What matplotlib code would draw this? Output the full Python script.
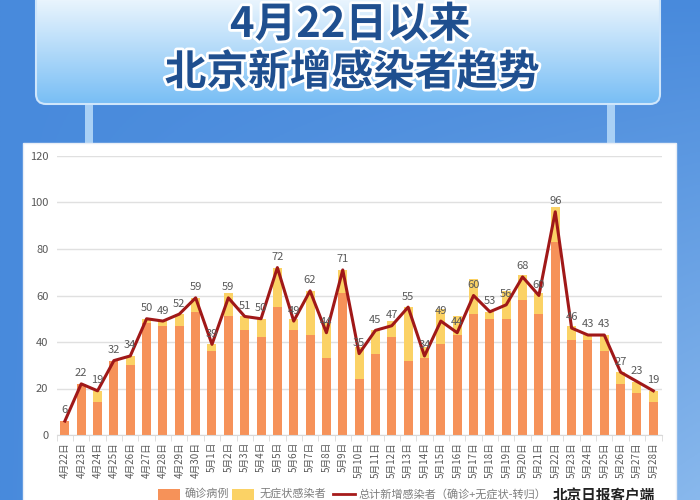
import numpy as np
import matplotlib
matplotlib.use("Agg")
from matplotlib import pyplot as plt
from matplotlib.patches import FancyBboxPatch, Rectangle
import matplotlib.patheffects as pe

plt.rcParams['font.family'] = ['Noto Sans CJK SC', 'DejaVu Sans']

# data
days = ['4月22日', '4月23日', '4月24日', '4月25日', '4月26日', '4月27日', '4月28日',
        '4月29日', '4月30日', '5月1日', '5月2日', '5月3日', '5月4日', '5月5日',
        '5月6日', '5月7日', '5月8日', '5月9日', '5月10日', '5月11日', '5月12日',
        '5月13日', '5月14日', '5月15日', '5月16日', '5月17日', '5月18日', '5月19日',
        '5月20日', '5月21日', '5月22日', '5月23日', '5月24日', '5月25日', '5月26日',
        '5月27日', '5月28日']
confirmed = [6, 22, 14, 32, 30, 48, 47, 47, 53, 36, 51, 45, 42, 55, 45, 43, 33, 61,
             24, 35, 42, 32, 33, 39, 43, 52, 50, 50, 58, 52, 83, 41, 41, 36, 22, 18, 14]
asymptomatic = [0, 0, 5, 0, 4, 2, 2, 5, 6, 3, 10, 6, 8, 17, 5, 19, 15, 10,
                14, 10, 7, 23, 5, 15, 8, 15, 3, 12, 11, 9, 15, 6, 2, 7, 5, 5, 5]
total = [6, 22, 19, 32, 34, 50, 49, 52, 59, 39, 59, 51, 50, 72, 49, 62, 44, 71,
         35, 45, 47, 55, 34, 49, 44, 60, 53, 56, 68, 60, 96, 46, 43, 43, 27, 23, 19]

fig = plt.figure(figsize=(7, 5), dpi=100)

# background in pixel coordinates
bg = fig.add_axes([0, 0, 1, 1])
bg.set_xlim(0, 700)
bg.set_ylim(500, 0)
bg.axis('off')

gx, gy = np.meshgrid(np.linspace(0, 1, 200), np.linspace(0, 1, 200))
shade = 0.55 * gx * gy
top_c = np.array([72, 138, 220]) / 255
light_c = np.array([190, 222, 250]) / 255
grad = top_c + shade[..., None] * (light_c - top_c)
bg.imshow(grad, extent=[0, 700, 500, 0], aspect='auto', zorder=0)

# banner
banner = FancyBboxPatch((36, -20), 624, 124, boxstyle='round,pad=0,rounding_size=10',
                        fc='none', ec='#cfe6fb', lw=1.5, zorder=2)
bg.add_patch(banner)
bgrad = np.linspace(0, 1, 100)[:, None, None]
c1 = np.array([1.0, 1.0, 1.0])
c2 = np.array([120, 190, 245]) / 255
img = bg.imshow(c1 + bgrad * (c2 - c1) * np.ones((1, 2, 3)),
                extent=[36, 660, 104, -20], aspect='auto', zorder=1)
img.set_clip_path(banner)

# posts
for px in [85, 607]:
    bg.add_patch(Rectangle((px, 104), 8, 42, fc='#a9d0f5', ec='none', zorder=1))

# white panel
bg.add_patch(Rectangle((23, 143), 653, 370, fc='white', ec='#e8eef6', lw=1, zorder=3))

stroke = [pe.withStroke(linewidth=4, foreground='white')]
bg.text(350, 25, '4月22日以来', ha='center', va='center', fontsize=30,
        fontweight='bold', color='#1f4f8f', path_effects=stroke, zorder=4)
bg.text(352, 73, '北京新增感染者趋势', ha='center', va='center', fontsize=30,
        fontweight='bold', color='#1f4f8f', path_effects=stroke, zorder=4)

# legend row, cut by the bottom edge as in the original
bg.add_patch(Rectangle((158, 489), 22, 11, fc='#f69259', ec='none', zorder=4))
bg.text(185, 494, '确诊病例', fontsize=8, color='#7f7f7f', va='center', zorder=4)
bg.add_patch(Rectangle((232, 489), 22, 11, fc='#fbd265', ec='none', zorder=4))
bg.text(260, 494, '无症状感染者', fontsize=8, color='#7f7f7f', va='center', zorder=4)
bg.plot([333, 355], [494, 494], color='#a61b1b', lw=2, zorder=4)
bg.text(358, 494, '总计新增感染者（确诊+无症状-转归）', fontsize=8, color='#7f7f7f',
        va='center', zorder=4)
bg.text(553, 495, '北京日报客户端', fontsize=10.5, fontweight='bold', color='#222222',
        va='center', zorder=4)

# chart
ax = fig.add_axes([0.081, 0.13, 0.864, 0.558], zorder=5)
ax.patch.set_alpha(0)
x = np.arange(len(days))
ax.bar(x, confirmed, width=0.55, color='#f69259', zorder=2)
ax.bar(x, asymptomatic, width=0.55, bottom=confirmed, color='#fbd265', zorder=2)
ax.plot(x, total, color='#a01818', lw=2.2, zorder=3)
for xi, v in zip(x, total):
    ax.annotate(str(v), (xi, v), xytext=(0, 4), textcoords='offset points',
                ha='center', va='bottom', fontsize=8, color='#595959', zorder=4)

ax.set_xlim(-0.5, len(days) - 0.5)
ax.set_ylim(0, 120)
ax.set_yticks(range(0, 121, 20))
ax.yaxis.grid(True, color='#e0e0e0', lw=1)
ax.set_axisbelow(True)
ax.tick_params(axis='y', length=0, labelsize=8, labelcolor='#595959', pad=6)
ax.set_xticks(x)
ax.set_xticklabels(days, rotation=90, fontsize=7, color='#595959')
ax.set_xticks(np.arange(-0.5, len(days)), minor=True)
ax.tick_params(axis='x', which='major', length=0, pad=5)
ax.tick_params(axis='x', which='minor', length=4, color='#d9d9d9')
for s in ['top', 'right', 'left']:
    ax.spines[s].set_visible(False)
ax.spines['bottom'].set_color('#d9d9d9')

fig.savefig('out.png', dpi=100)
